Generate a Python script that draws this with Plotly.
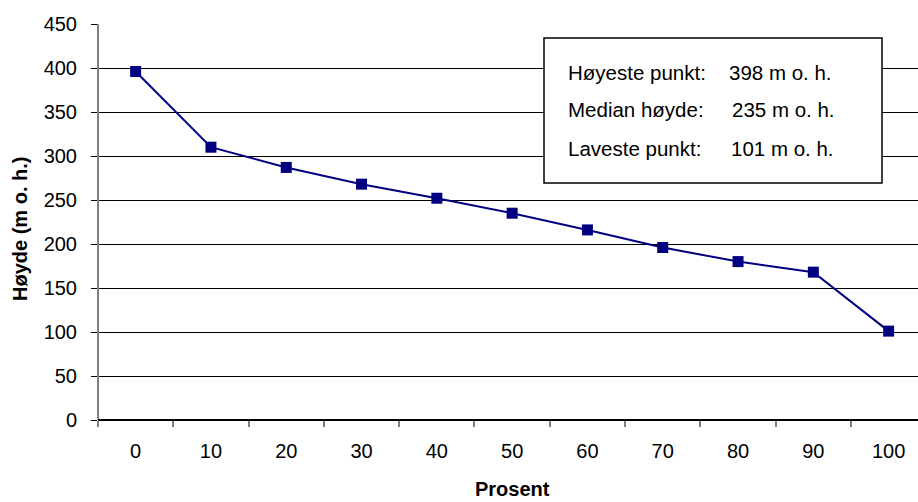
import plotly.graph_objects as go

categories = ["0", "10", "20", "30", "40", "50", "60", "70", "80", "90", "100"]
heights = [396, 310, 287, 268, 252, 235, 216, 196, 180, 168, 101]
y_ticks = [0, 50, 100, 150, 200, 250, 300, 350, 400, 450]
box_labels = ["Høyeste punkt:", "Median høyde:", "Laveste punkt:"]
box_values = ["398 m o. h.", "235 m o. h.", "101 m o. h."]

FONT = "Liberation Sans, Arial, sans-serif"
W, H = 918, 502
L, R, T, B = 98, 0, 24, 82
pw, ph = W - L - R, H - T - B

def px(x):
    return (x - L) / pw

def py(y):
    return (H - B - y) / ph

fig = go.Figure()
fig.add_trace(go.Scatter(
    x=categories, y=heights, mode="lines+markers",
    line=dict(color="#000080", width=2),
    marker=dict(symbol="square", size=11, color="#000080"),
    hoverinfo="skip", showlegend=False,
))

fig.update_layout(
    width=W, height=H,
    margin=dict(l=L, r=R, t=T, b=B, pad=0),
    paper_bgcolor="white", plot_bgcolor="white",
    font=dict(family=FONT, size=20, color="black"),
    xaxis=dict(
        type="category", range=[-0.5, 10.39], tickson="boundaries",
        showgrid=False, showline=False, zeroline=False,
        ticks="outside", ticklen=6, tickwidth=1.5, tickcolor="#808080",
        ticklabelstandoff=17, tickfont=dict(size=20),
    ),
    yaxis=dict(
        range=[0, 450], tickvals=y_ticks, showgrid=True, gridcolor="black",
        gridwidth=1, zeroline=False, showline=False,
        ticks="outside", ticklen=6, tickcolor="black", tickwidth=1,
        ticklabelstandoff=10, tickfont=dict(size=20),
    ),
)

shapes = [
    dict(type="line", xref="paper", yref="paper", x0=0, x1=0, y0=0, y1=1,
         line=dict(color="#808080", width=2)),
    dict(type="line", xref="paper", yref="paper", x0=0, x1=1, y0=0, y1=0,
         line=dict(color="black", width=2)),
    dict(type="rect", xref="paper", yref="paper",
         x0=px(544), x1=px(882), y0=py(183), y1=py(38),
         line=dict(color="black", width=1.5), fillcolor="white", layer="above"),
]
fig.update_layout(shapes=shapes)

ann = []
line_y = [73, 110, 148]
val_x = [727, 730, 729]
for lab, val, yy, vx in zip(box_labels, box_values, line_y, val_x):
    ann.append(dict(text=lab, xref="paper", yref="paper", x=px(566), y=py(yy),
                    xanchor="left", yanchor="middle", showarrow=False,
                    font=dict(size=20.5)))
    ann.append(dict(text=val, xref="paper", yref="paper", x=px(vx), y=py(yy),
                    xanchor="left", yanchor="middle", showarrow=False,
                    font=dict(size=20.5)))
ann.append(dict(text="<b>Høyde (m o. h.)</b>", xref="paper", yref="paper",
                x=px(20), y=py(229), textangle=-90, xanchor="center",
                yanchor="middle", showarrow=False, font=dict(size=20)))
ann.append(dict(text="<b>Prosent</b>", xref="paper", yref="paper",
                x=px(512), y=py(489), xanchor="center", yanchor="middle",
                showarrow=False, font=dict(size=20)))
fig.update_layout(annotations=ann)

fig.write_html("out.html")
